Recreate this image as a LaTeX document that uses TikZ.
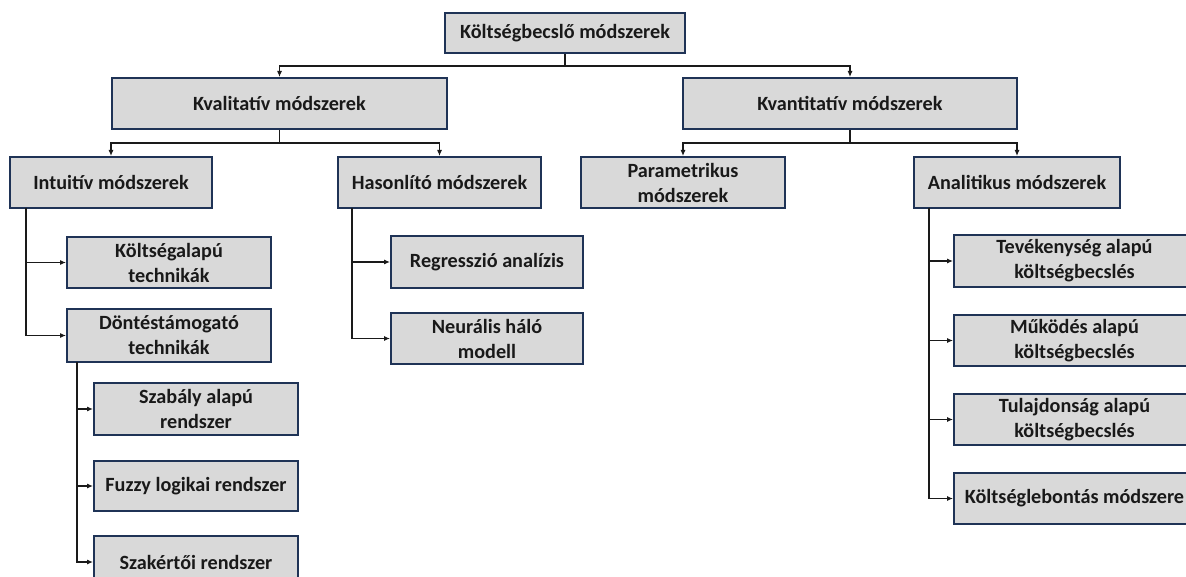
\documentclass[tikz,border=0pt]{standalone}
\usepackage{fontspec}
\setmainfont{Carlito}
\usetikzlibrary{arrows.meta}
\definecolor{boxfill}{HTML}{D9D9D9}
\definecolor{boxline}{HTML}{1F3356}
\definecolor{conn}{HTML}{1A1A1A}
\tikzset{
  box/.style={draw=boxline, line width=2pt, fill=boxfill, inner sep=0pt, align=center,
    font=\bfseries\fontsize{20.2}{25}\selectfont, text=black!90},
  arr/.style={draw=conn, line width=1.1pt, -{Latex[length=6pt,width=5pt]}},
  ln/.style={draw=conn, line width=1.1pt}
}
\begin{document}
\begin{tikzpicture}[x=1pt,y=-1pt]
\useasboundingbox (0,0) rectangle (1186,577);
\clip (0,0) rectangle (1186,577);
\fill[white] (0,0) rectangle (1186,577);
% level 0
\node[box, minimum width=240pt, minimum height=40pt] (top) at (565,33) {Költségbecslő módszerek};
% level 1
\node[box, minimum width=335pt, minimum height=51pt] (kval) at (279.5,103.5) {Kvalitatív módszerek};
\node[box, minimum width=334pt, minimum height=51pt] (kvan) at (850,103.5) {Kvantitatív módszerek};
% level 2
\node[box, minimum width=202pt, minimum height=51pt] (intu) at (111,182.5) {Intuitív módszerek};
\node[box, minimum width=203pt, minimum height=51pt] (haso) at (439.5,182.5) {Hasonlító módszerek};
\node[box, minimum width=204pt, minimum height=51pt] (param) at (683,182.5) {Parametrikus\\módszerek};
\node[box, minimum width=206pt, minimum height=51pt] (anal) at (1017,182.5) {Analitikus módszerek};
% intuitive branch
\node[box, minimum width=204pt, minimum height=51pt] (kolts) at (169,262.5) {Költségalapú\\technikák};
\node[box, minimum width=204pt, minimum height=53pt] (dont) at (169,335.5) {Döntéstámogató\\technikák};
\node[box, minimum width=204pt, minimum height=52pt] (szab) at (196,409) {Szabály alapú\\rendszer};
\node[box, minimum width=204pt, minimum height=50pt] (fuzzy) at (196,486) {Fuzzy logikai rendszer};
\node[box, minimum width=204pt, minimum height=52pt] (szak) at (196,562) {Szakértői rendszer};
% comparative branch
\node[box, minimum width=192pt, minimum height=52pt] (regr) at (487,262) {Regresszió analízis};
\node[box, minimum width=192pt, minimum height=51pt] (neur) at (487,338.5) {Neurális háló\\modell};
% analytic branch
\node[box, minimum width=241pt, minimum height=52pt] (tev) at (1074.5,261) {Tevékenység alapú\\költségbecslés};
\node[box, minimum width=241pt, minimum height=51pt] (mukod) at (1074.5,340.5) {Működés alapú\\költségbecslés};
\node[box, minimum width=241pt, minimum height=51pt] (tulaj) at (1074.5,419.5) {Tulajdonság alapú\\költségbecslés};
\node[box, minimum width=241pt, minimum height=51pt] (koltl) at (1074.5,498.5) {Költséglebontás módszere};
% junctions
\coordinate (j1) at (565,66);
\coordinate (j2) at (279.5,143);
\coordinate (j3) at (850,143);
\coordinate (b1) at (26,208);
\coordinate (b2) at (77,362);
\coordinate (b3) at (352,208);
\coordinate (b4) at (929,208);
% connectors
\draw[ln] (top.south) -- (j1);
\draw[arr] (j1) -| (kval.north);
\draw[arr] (j1) -| (kvan.north);
\draw[ln] (kval.south) -- (j2);
\draw[arr] (j2) -| (intu.north);
\draw[arr] (j2) -| (haso.north);
\draw[ln] (kvan.south) -- (j3);
\draw[arr] (j3) -| (param.north);
\draw[arr] (j3) -| (anal.north);
\draw[arr] (b1) |- (kolts.west);
\draw[arr] (b1) |- (dont.west);
\draw[arr] (b2) |- (szab.west);
\draw[arr] (b2) |- (fuzzy.west);
\draw[arr] (b2) |- (szak.west);
\draw[arr] (b3) |- (regr.west);
\draw[arr] (b3) |- (neur.west);
\draw[arr] (b4) |- (tev.west);
\draw[arr] (b4) |- (mukod.west);
\draw[arr] (b4) |- (tulaj.west);
\draw[arr] (b4) |- (koltl.west);
\end{tikzpicture}
\end{document}
